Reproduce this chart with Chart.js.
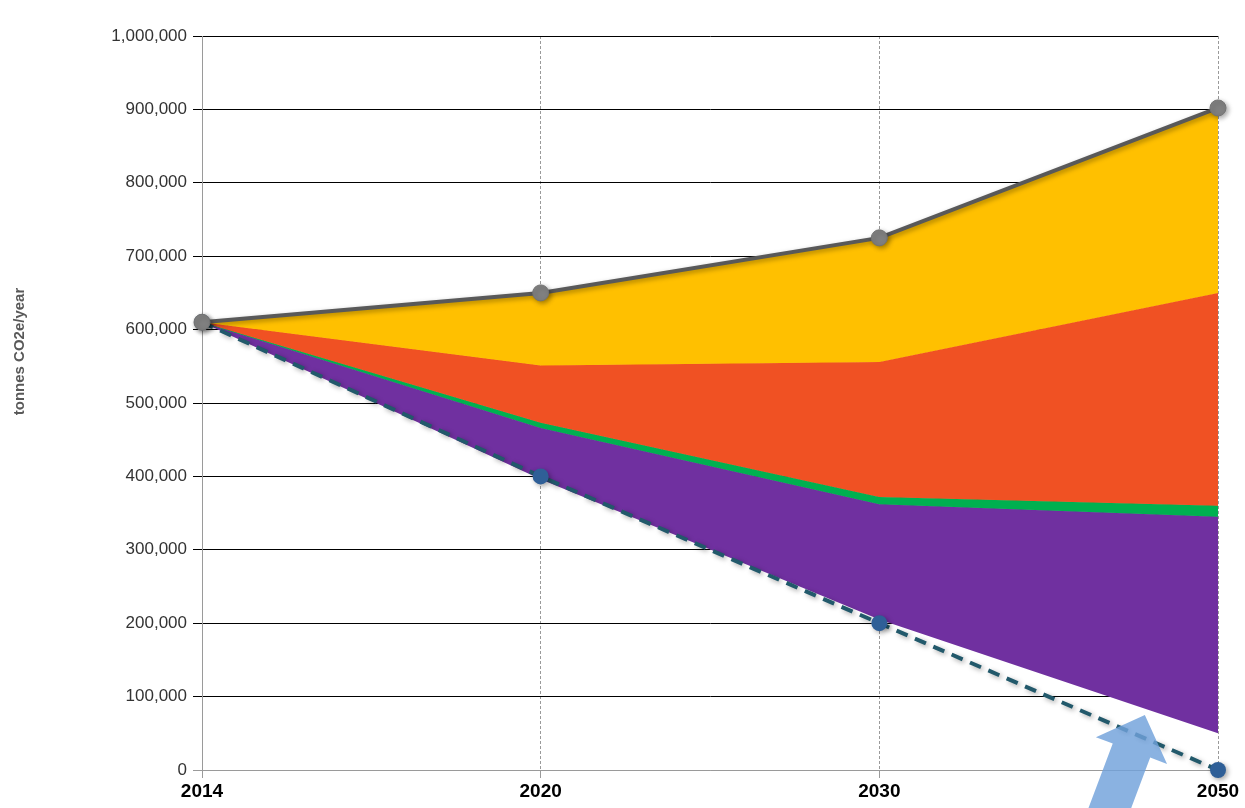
<!DOCTYPE html>
<html>
<head>
<meta charset="utf-8">
<script src="https://cdn.jsdelivr.net/npm/chart.js@4/dist/chart.umd.min.js"></script>
<style>
  html, body { margin: 0; padding: 0; background: #ffffff; overflow: hidden; }
  canvas { display: block; }
</style>
</head>
<body>
<canvas id="chart" width="1245" height="808"></canvas>
<script>
// Emissions pathway, tonnes CO2e per year
const years = ['2014', '2020', '2030', '2050'];

// Business-as-usual total (grey line)
const baseline = [610000, 650000, 725000, 902000];
// Reduction pathway to zero (dashed line)
const targetPath = [610000, 400000, 200000, 0];

// Upper edges of the stacked wedges, top to bottom
const orangeTop = [610000, 551000, 556000, 650000];
const greenTop = [610000, 473000, 372000, 360000];
const greenBottom = [610000, 466000, 362000, 345000];
const purpleBottom = [610000, 396000, 205000, 50000];

const yMax = 1000000;
const yStep = 100000;
const yTitle = 'tonnes CO2e/year';

const FONT = "'Liberation Sans', Arial, sans-serif";

// Soft drop shadow under the two lines
const lineShadow = {
  id: 'lineShadow',
  beforeDatasetDraw(chart, args) {
    if (args.index > 1) return;
    const ctx = chart.ctx;
    ctx.save();
    ctx.shadowColor = 'rgba(0,0,0,0.35)';
    ctx.shadowBlur = 5;
    ctx.shadowOffsetX = 2;
    ctx.shadowOffsetY = 2;
  },
  afterDatasetDraw(chart, args) {
    if (args.index > 1) return;
    chart.ctx.restore();
  }
};

// Rotated axis caption on the far left
const sideTitle = {
  id: 'sideTitle',
  afterDraw(chart) {
    const ctx = chart.ctx;
    ctx.save();
    ctx.translate(20, chart.height * 0.435);
    ctx.rotate(-Math.PI / 2);
    ctx.font = 'bold 15px ' + FONT;
    ctx.fillStyle = '#595959';
    ctx.textAlign = 'center';
    ctx.textBaseline = 'middle';
    ctx.fillText(yTitle, 0, 0);
    ctx.restore();
  }
};

// Block arrow pointing at the gap between the wedges and the pathway
const gapArrow = {
  id: 'gapArrow',
  afterDatasetsDraw(chart) {
    const xs = chart.scales.x, ys = chart.scales.y;
    const x0 = xs.getPixelForValue(2), x1 = xs.getPixelForValue(3);
    const tipX = x0 + (x1 - x0) * 0.784;
    const tipY = ys.getPixelForValue(75000);
    const ux = 0.352, uy = -0.936;     // direction towards the tip
    const px = -uy, py = ux;           // perpendicular
    const headLen = 38, headHalf = 38, shaftHalf = 20, shaftLen = 140;
    const bx = tipX - headLen * ux, by = tipY - headLen * uy;
    const ex = bx - shaftLen * ux, ey = by - shaftLen * uy;
    const ctx = chart.ctx;
    ctx.save();
    ctx.fillStyle = 'rgba(112,161,219,0.82)';
    ctx.beginPath();
    ctx.moveTo(tipX, tipY);
    ctx.lineTo(bx + headHalf * px, by + headHalf * py);
    ctx.lineTo(bx + shaftHalf * px, by + shaftHalf * py);
    ctx.lineTo(ex + shaftHalf * px, ey + shaftHalf * py);
    ctx.lineTo(ex - shaftHalf * px, ey - shaftHalf * py);
    ctx.lineTo(bx - shaftHalf * px, by - shaftHalf * py);
    ctx.lineTo(bx - headHalf * px, by - headHalf * py);
    ctx.closePath();
    ctx.fill();
    ctx.restore();
  }
};

const edge = (data, color, fillTarget) => ({
  data,
  borderColor: color,
  borderWidth: 1,
  pointRadius: 0,
  fill: fillTarget === null ? false : { target: fillTarget },
  backgroundColor: color,
  tension: 0
});

new Chart(document.getElementById('chart'), {
  type: 'line',
  data: {
    labels: years,
    datasets: [
      {
        label: 'Baseline',
        data: baseline,
        borderColor: '#595959',
        borderWidth: 4,
        pointRadius: 8,
        pointBackgroundColor: '#808080',
        pointBorderColor: '#737373',
        pointBorderWidth: 1,
        fill: { target: 2 },
        backgroundColor: '#ffc000',
        clip: false,
        tension: 0
      },
      {
        label: 'Pathway',
        data: targetPath,
        borderColor: '#22596b',
        borderWidth: 4,
        borderDash: [12, 8],
        pointRadius: 8,
        pointBackgroundColor: '#2f5f97',
        pointBorderColor: '#2f5f97',
        pointBorderWidth: 0,
        fill: false,
        clip: false,
        tension: 0
      },
      edge(orangeTop, '#f05123', 3),
      edge(greenTop, '#00b050', 4),
      edge(greenBottom, '#7030a0', 5),
      edge(purpleBottom, 'rgba(0,0,0,0)', null)
    ]
  },
  options: {
    responsive: false,
    animation: false,
    devicePixelRatio: 1,
    layout: { padding: { top: 36, right: 27, left: 0, bottom: 0 } },
    plugins: {
      legend: { display: false },
      tooltip: { enabled: false }
    },
    scales: {
      x: {
        type: 'category',
        offset: false,
        grid: {
          color: '#9a9a9a',
          lineWidth: 1,
          tickLength: 8,
          tickColor: '#9a9a9a',
          tickBorderDash: []
        },
        border: { display: true, color: '#9a9a9a', width: 1, dash: [3, 2] },
        ticks: {
          color: '#000000',
          padding: 2,
          maxRotation: 0,
          font: { family: FONT, size: 19, weight: 'bold' }
        },
        afterFit(scale) { scale.height = 38; }
      },
      y: {
        min: 0,
        max: yMax,
        grid: {
          color: (c) => (c.tick && c.tick.value === 0 ? '#9a9a9a' : '#000000'),
          lineWidth: 1,
          tickLength: 9,
          tickColor: (c) => (c.tick && c.tick.value === 0 ? '#9a9a9a' : '#000000')
        },
        border: { display: true, color: '#9a9a9a', width: 1 },
        ticks: {
          stepSize: yStep,
          color: '#333333',
          padding: 6,
          font: { family: FONT, size: 17 },
          callback: (v) => v.toLocaleString('en-US')
        },
        afterFit(scale) { scale.width = 202; }
      }
    }
  },
  plugins: [lineShadow, gapArrow, sideTitle]
});
</script>
</body>
</html>
